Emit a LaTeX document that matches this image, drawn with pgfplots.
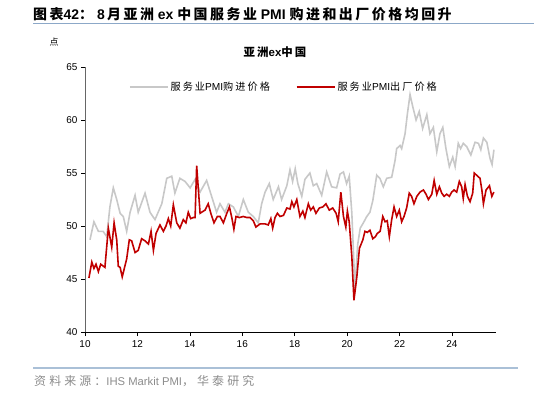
\documentclass[border=0pt]{standalone}
\usepackage{pgfplots}
\pgfplotsset{compat=1.18}
\usepackage{fontspec}
\setmainfont{Liberation Sans}
\newfontfamily\cjk{Noto Sans CJK SC}
\newfontfamily\cjktitle[LetterSpace=18]{Noto Sans CJK SC}
\newfontfamily\cjkct[LetterSpace=18]{Noto Sans CJK SC}
\newfontfamily\cjkleg[LetterSpace=20]{Noto Sans CJK SC}
\newfontfamily\cjksrc[LetterSpace=26]{Noto Sans CJK SC}
\newcommand{\T}[1]{{\cjktitle #1}}
\newcommand{\Lg}[1]{{\cjkleg #1}}
\newcommand{\Sr}[1]{{\cjksrc\fontsize{12}{14}\selectfont #1}}
\definecolor{grayline}{RGB}{200,200,200}
\definecolor{redline}{RGB}{192,0,0}
\definecolor{rulecol}{RGB}{140,168,200}
\definecolor{rulecol2}{RGB}{170,192,215}
\definecolor{srcgray}{RGB}{140,140,140}
\begin{document}
\begin{tikzpicture}[x=1bp,y=1bp]
\useasboundingbox (0,0) rectangle (534,-392);
\node[anchor=base west,inner sep=0pt,font=\bfseries\fontsize{14}{16}\selectfont] at (33,-19.5) {\T{图表}42\T{：}\hspace{4bp}8\,\T{月亚洲} ex \T{中国服务业} PMI \T{购进和出厂价格均回升}};
\draw[rulecol,line width=1.2bp] (33,-23.5) -- (534,-23.5);
\node[font=\cjk\fontsize{9}{10}\selectfont,inner sep=0pt] at (54,-42) {点};
\node[font=\bfseries\fontsize{11.5}{13}\selectfont,inner sep=0pt] at (275,-52) {{\cjkct 亚洲}ex{\cjkct 中国}};
\begin{axis}[
  at={(85bp,-332bp)}, anchor=south west,
  scale only axis, width=411bp, height=265bp,
  xmin=10, xmax=25.68, ymin=40, ymax=65,
  axis x line=bottom, axis y line=left,
  axis line style={-, line width=0.8bp},
  y axis line style={black!60},
  xtick={10,12,...,24}, ytick={40,45,...,65},
  tick align=outside, major tick length=4bp,
  tick style={black, line width=0.6bp},
  ticklabel style={font=\fontsize{10}{12}\selectfont},
  /pgf/number format/assume math mode=true,
  xticklabel style={yshift=-1bp},
  legend style={at={(0.484,0.925)}, anchor=center, draw=none, fill=none,
    legend columns=2, font=\fontsize{10.2}{12}\selectfont,
    /tikz/every even column/.append style={column sep=24bp}},
  legend image code/.code={\draw[#1] (0bp,0bp) -- (38bp,0bp);},
  clip=false,
]
\addplot[grayline, line width=1.6bp] coordinates {
(10.19,48.7)(10.34,50.4)(10.51,49.5)(10.69,49.5)(10.83,49.0)(10.95,51.8)(11.08,53.6)(11.21,52.5)(11.34,51.2)(11.46,50.9)(11.59,49.5)(11.72,51.3)(11.91,52.9)(12.03,51.3)(12.29,53.1)(12.48,51.3)(12.67,50.6)(12.93,52.1)(13.12,54.5)(13.31,54.7)(13.43,53.1)(13.62,54.5)(13.82,54.2)(14.01,53.6)(14.20,54.4)(14.39,53.2)(14.64,54.3)(14.83,52.8)(15.02,51.3)(15.15,52.1)(15.34,51.3)(15.47,52.1)(15.66,51.8)(15.85,50.9)(16.04,52.5)(16.23,51.3)(16.42,50.9)(16.61,50.3)(16.74,52.1)(16.87,53.2)(17.03,54.0)(17.18,52.5)(17.38,53.7)(17.50,52.5)(17.70,53.8)
(17.82,55.3)(17.92,54.2)(18.02,55.4)(18.12,54.0)(18.27,52.8)(18.39,54.4)(18.58,55.0)(18.71,53.8)(18.84,54.0)(19.03,52.9)(19.22,55.1)(19.41,53.7)(19.60,53.6)(19.73,54.9)(19.86,55.1)(19.98,54.0)(20.08,54.7)(20.18,51.2)(20.30,44.0)(20.40,48.2)(20.50,49.8)(20.62,50.3)(20.75,50.9)(20.87,51.3)(20.98,52.4)(21.13,54.8)(21.25,54.5)(21.38,53.7)(21.51,54.5)(21.70,54.6)(21.83,56.2)(21.89,57.3)(22.02,57.6)(22.08,57.3)(22.21,58.7)(22.30,60.6)(22.40,62.4)(22.50,61.3)(22.63,60.0)(22.75,60.8)(22.88,59.2)(23.04,60.5)(23.16,58.7)(23.29,59.3)(23.42,57.0)(23.54,58.7)(23.65,59.3)(23.77,57.3)(23.90,55.6)(24.03,56.5)(24.12,55.6)(24.24,57.8)(24.33,57.3)(24.43,57.8)(24.56,57.5)(24.72,56.7)(24.88,57.9)(25.01,57.8)(25.10,57.2)(25.20,58.3)(25.33,57.9)(25.45,56.4)(25.53,55.8)(25.60,57.2)
};
\addlegendentry{\Lg{服务业}PMI\Lg{购进价格}}
\addplot[redline, line width=1.6bp] coordinates {
(10.15,45.1)(10.26,46.6)(10.34,46.0)(10.42,46.4)(10.51,45.7)(10.60,46.4)(10.76,46.1)(10.89,49.8)(11.02,48.0)(11.11,50.3)(11.21,48.7)(11.27,46.2)(11.34,46.1)(11.42,45.2)(11.53,46.3)(11.59,46.9)(11.69,48.7)(11.78,48.6)(11.91,47.5)(12.03,47.7)(12.16,48.8)(12.29,48.6)(12.42,48.3)(12.52,49.5)(12.61,47.7)(12.71,49.3)(12.86,50.1)(12.99,49.5)(13.09,50.0)(13.18,50.7)(13.27,50.0)(13.37,52.0)(13.50,50.3)(13.62,49.8)(13.75,50.6)(13.85,50.3)(13.94,51.3)(14.03,50.7)(14.13,50.8)(14.20,50.8)(14.26,55.7)(14.39,51.2)(14.45,51.3)(14.58,51.5)(14.70,52.1)(14.80,51.2)(14.92,50.3)(15.05,50.9)(15.15,50.9)(15.28,50.3)(15.41,51.2)(15.51,51.8)(15.60,50.8)(15.68,49.7)(15.76,50.9)(15.89,50.8)(16.04,50.9)(16.17,50.8)(16.30,50.8)(16.42,50.5)(16.52,49.9)(16.68,50.2)(16.87,50.2)(16.99,50.1)(17.09,50.7)(17.16,49.8)(17.25,50.8)(17.34,51.2)(17.44,50.9)(17.57,51.0)(17.70,51.7)
(17.82,51.6)(17.89,52.3)(17.97,51.8)(18.08,52.5)(18.20,50.9)(18.31,51.4)(18.39,50.8)(18.52,52.1)(18.61,51.5)(18.71,51.8)(18.81,51.2)(18.94,51.7)(19.07,51.8)(19.19,52.1)(19.32,51.5)(19.45,51.7)(19.58,51.2)(19.66,50.4)(19.76,53.2)(19.86,50.9)(19.95,49.9)(20.01,51.4)(20.08,50.4)(20.18,47.1)(20.26,43.0)(20.37,45.2)(20.47,47.9)(20.60,48.7)(20.68,49.5)(20.77,49.4)(20.87,49.6)(20.98,48.8)(21.08,49.0)(21.15,49.3)(21.26,49.5)(21.36,50.9)(21.45,50.4)(21.53,50.5)(21.61,49.0)(21.70,50.6)(21.79,51.8)(21.89,50.9)(21.99,51.5)(22.08,50.4)(22.17,50.9)(22.27,51.7)(22.37,53.1)(22.46,52.8)(22.55,52.1)(22.66,52.8)(22.78,53.2)(22.91,53.4)(23.01,53.0)(23.10,52.5)(23.23,53.0)(23.32,54.3)(23.42,53.0)(23.52,53.7)(23.61,53.1)(23.70,52.8)(23.80,53.0)(23.90,52.8)(23.99,53.2)(24.08,53.4)(24.18,53.2)(24.28,54.2)(24.37,53.7)(24.43,52.6)(24.50,53.9)(24.59,52.8)(24.69,52.3)(24.79,53.1)(24.85,55.0)(24.98,54.7)(25.07,54.5)(25.14,53.4)(25.20,52.1)(25.30,53.4)(25.43,53.8)(25.52,52.8)(25.60,53.2)
};
\addlegendentry{\Lg{服务业}PMI\Lg{出厂价格}}
\end{axis}
\draw[rulecol2,line width=1.2bp] (33,-368) -- (518,-368);
\node[anchor=base west,inner sep=0pt,text=srcgray,font=\fontsize{11.3}{13}\selectfont] at (34,-385) {\Sr{资料来源：}IHS Markit PMI\Sr{，华泰研究}};
\end{tikzpicture}
\end{document}
